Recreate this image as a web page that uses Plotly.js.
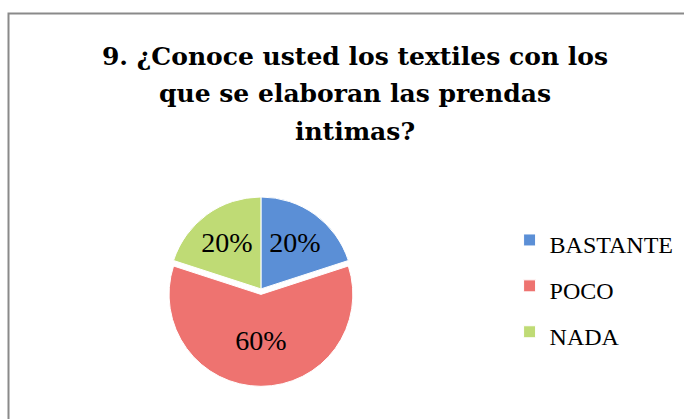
<!DOCTYPE html>
<html>
<head>
<meta charset="utf-8">
<script src="https://cdn.plot.ly/plotly-3.0.1.min.js"></script>
<style>html,body{margin:0;padding:0;background:#fff}#chart{width:684px;height:419px}</style>
</head>
<body>
<div id="chart"></div>
<script>
var categories = ['BASTANTE', 'POCO', 'NADA'];
var values = [20, 60, 20];
var sliceColors = ['#5B8FD6', '#EE7370', '#BFDB75'];
var pulls = [0, 0.06, 0];
var titleLines = ['9. ¿Conoce usted los textiles con los', 'que se elaboran las prendas', 'intimas?'];

var titleText = '<span style="font-size:25px">' + titleLines.join('<br>') + '</span>';
var legendLabels = categories.map(function (c) {
  return '<span style="font-size:24px">' + c + '</span>';
});

var trace = {
  type: 'pie',
  labels: legendLabels,
  values: values,
  sort: false,
  direction: 'clockwise',
  rotation: 0,
  pull: pulls,
  marker: { colors: sliceColors, line: { color: '#ffffff', width: 1 } },
  textinfo: 'percent',
  textposition: 'inside',
  insidetextorientation: 'horizontal',
  textfont: { family: 'Liberation Serif, DejaVu Serif, serif', size: 28, color: '#000000' },
  hoverinfo: 'none',
  domain: { x: [0.239, 0.524], y: [0.078, 0.543] }
};

var layout = {
  width: 684,
  height: 419,
  margin: { l: 0, r: 0, t: 0, b: 0 },
  paper_bgcolor: '#ffffff',
  title: {
    text: titleText,
    font: { family: 'DejaVu Serif, serif', size: 29, color: '#000000', weight: 'bold' },
    x: 0.519, xanchor: 'center',
    y: 0.846, yanchor: 'top'
  },
  showlegend: true,
  legend: {
    x: 0.745, xanchor: 'left',
    y: 0.494, yanchor: 'top',
    font: { family: 'Liberation Serif, DejaVu Serif, serif', size: 33, color: '#000000' },
    bgcolor: 'rgba(0,0,0,0)'
  },
  shapes: [{
    type: 'rect', xref: 'paper', yref: 'paper',
    x0: 8.5 / 684, x1: 1.2, y0: -0.2, y1: 1 - 13.5 / 419,
    line: { color: '#8a8a8a', width: 2 }
  }]
};

Plotly.newPlot('chart', [trace], layout, { staticPlot: true, displayModeBar: false });
</script>
</body>
</html>
